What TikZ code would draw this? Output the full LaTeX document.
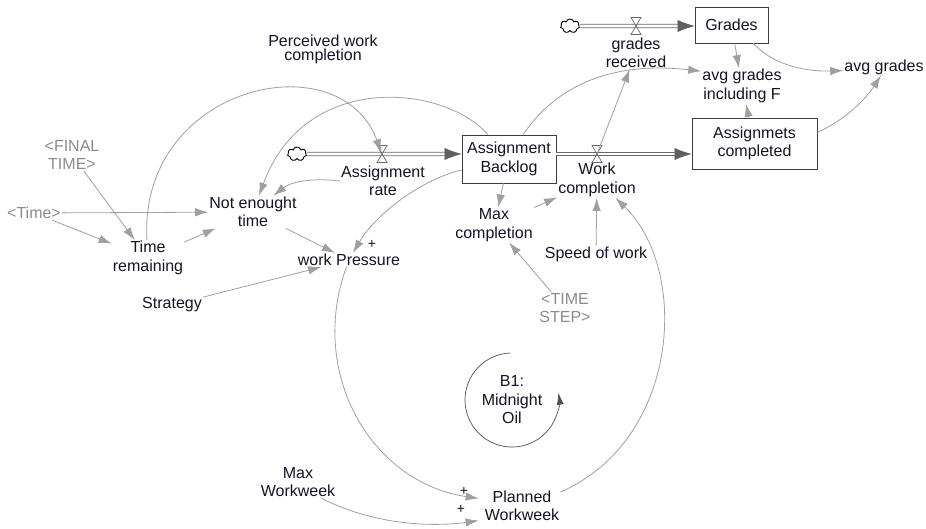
\documentclass[tikz,border=0pt]{standalone}
\usepackage{fontspec}
\setmainfont{Liberation Sans}
\usetikzlibrary{arrows.meta,shapes.symbols,calc}
\definecolor{cLink}{RGB}{160,160,160}
\definecolor{cPipe}{RGB}{105,105,105}
\definecolor{cFlow}{RGB}{95,95,95}
\definecolor{cBox}{RGB}{60,60,60}
\definecolor{cShadow}{RGB}{140,140,140}
\definecolor{cLoop}{RGB}{80,80,80}
\definecolor{cText}{RGB}{20,20,40}
\begin{document}
\begin{tikzpicture}[x=1pt,y=-1pt,
  font=\fontsize{16}{18.5}\selectfont,
  var/.style={align=center, inner sep=1pt, text=cText},
  shadowvar/.style={var, text=cShadow},
  stock/.style={draw=cBox, line width=0.7pt, align=center, inner sep=2pt, text=cText},
  sign/.style={inner sep=0pt, text=cText, font=\fontsize{14}{14}\selectfont},
  link/.style={draw=cLink, line width=0.8pt, -{Latex[length=13pt,width=8.5pt]}},
  pipe/.style={draw=cPipe, double=white, double distance=2.8pt, line width=0.8pt},
  flowarrow/.style={draw=cFlow, fill=cFlow, line width=0.5pt, -{Latex[length=17pt,width=12pt]}},
  valvesh/.style={draw=cPipe, line width=0.7pt},
  cloudsh/.style={cloud, cloud puffs=7, aspect=1.4, draw=black, line width=0.9pt,
    minimum width=19pt, minimum height=14pt, inner sep=0pt},
  loopsty/.style={draw=cLoop, line width=0.7pt, -{Latex[length=12pt,width=7pt]}},
  valve/.pic={\draw[valvesh] (-5,-8.5) -- (5,-8.5) -- (-5,8.5) -- (5,8.5) -- cycle;}
]
\fill[white] (0,0) rectangle (926,529);
\useasboundingbox (0,0) rectangle (926,529);

% stocks
\node[stock, minimum width=94pt, minimum height=48pt] (ab) at (509,159) {Assignment\\Backlog};
\node[stock, minimum width=125pt, minimum height=51pt] (ac) at (754.5,143.5) {Assignmets\\completed};
\node[stock, minimum width=73pt, minimum height=36pt] (gra) at (731.5,25) {Grades};

% variables
\node[var] (ar) at (383,181) {Assignment\\rate};
\node[var] (wc) at (597,180) {Work\\completion};
\node[var] (grr) at (636,53) {grades\\received};
\node[var] (agf) at (742,86) {avg grades\\including F};
\node[var] (ag) at (884,67) {avg grades};
\node[var, font=\fontsize{16}{14}\selectfont] (pwc) at (323,49) {Perceived work\\completion};
\node[shadowvar] (ft) at (72,155) {<FINAL\\TIME>};
\node[shadowvar] (tm) at (34,213) {<Time>};
\node[var] (tr) at (148,258) {Time\\remaining};
\node[var] (nt) at (253,212) {Not enought\\time};
\node[var] (wp) at (349,260) {work Pressure};
\node[var] (st) at (172,305) {Strategy};
\node[var] (mc) at (494,225) {Max\\completion};
\node[var] (sw) at (596,254) {Speed of work};
\node[shadowvar] (ts) at (565,308) {<TIME\\STEP>};
\node[var] (b1) at (512,400) {B1:\\Midnight\\Oil};
\node[var] (mw) at (298,482) {Max\\Workweek};
\node[var] (pw) at (522,506) {Planned\\Workweek};
\node[sign] (s1) at (372,244) {+};
\node[sign] (s2) at (464,491) {+};
\node[sign] (s3) at (461,509) {+};

% clouds and valves
\coordinate (v1) at (382,154);
\coordinate (v2) at (597,154);
\coordinate (v3) at (636,26);
\node[cloudsh] (c1) at (297,154) {};
\node[cloudsh] (c2) at (570,26) {};

% flows
\draw[pipe, shorten >=15pt] (c1) -- (v1 -| ab.west);
\draw[flowarrow] ($(v1 -| ab.west)+(-17,0)$) -- (v1 -| ab.west);
\draw[pipe, shorten >=15pt] (v2 -| ab.east) -- (v2 -| ac.west);
\draw[flowarrow] ($(v2 -| ac.west)+(-17,0)$) -- (v2 -| ac.west);
\draw[pipe, shorten >=15pt] (c2) -- (v3 -| gra.west);
\draw[flowarrow] ($(v3 -| gra.west)+(-17,0)$) -- (v3 -| gra.west);
\pic at (v1) {valve};
\pic at (v2) {valve};
\pic at (v3) {valve};

% links
\draw[link] (ft) -- (tr);
\draw[link] (tm) -- (tr);
\draw[link] (tm) -- (nt);
\draw[link] (tr) -- (nt);
\draw[link] (nt) -- (wp);
\draw[link] (st) -- (wp);
\draw[link] (ab) -- (mc);
\draw[link] (mc) -- (wc);
\draw[link] (sw) -- (wc);
\draw[link] (ts) -- (mc);
\draw[link] (gra) -- (agf);
\draw[link] (ac) -- (agf);
\draw[link] (v2) -- (grr);
\draw[link, shorten >=2pt] (tr) .. controls (138,85) and (340,40) .. (v1);
\draw[link] (ab) .. controls (445,85) and (305,70) .. (nt);
\draw[link] (ar.west) .. controls (305,177) and (288,184) .. (nt);
\draw[link] (ab.193) .. controls (420,180) and (375,215) .. (wp);
\draw[link, shorten >=5pt] (wp) .. controls (308,372) and (370,482) .. (pw.170);
\draw[link, shorten >=5pt] (mw.-35) .. controls (380,528) and (440,526) .. (pw.200);
\draw[link] (pw.20) .. controls (680,440) and (690,270) .. (wc);
\draw[link] (ab.60) .. controls (560,80) and (620,62) .. (agf.160);
\draw[link] (gra.-40) .. controls (770,62) and (800,72) .. (ag.185);
\draw[link] (ac.10) .. controls (845,120) and (865,100) .. (ag.-110);

% loop marker
\draw[loopsty] ([shift={(268:47)}]b1.center) arc[start angle=268, end angle=-9, radius=47];
\end{tikzpicture}
\end{document}
